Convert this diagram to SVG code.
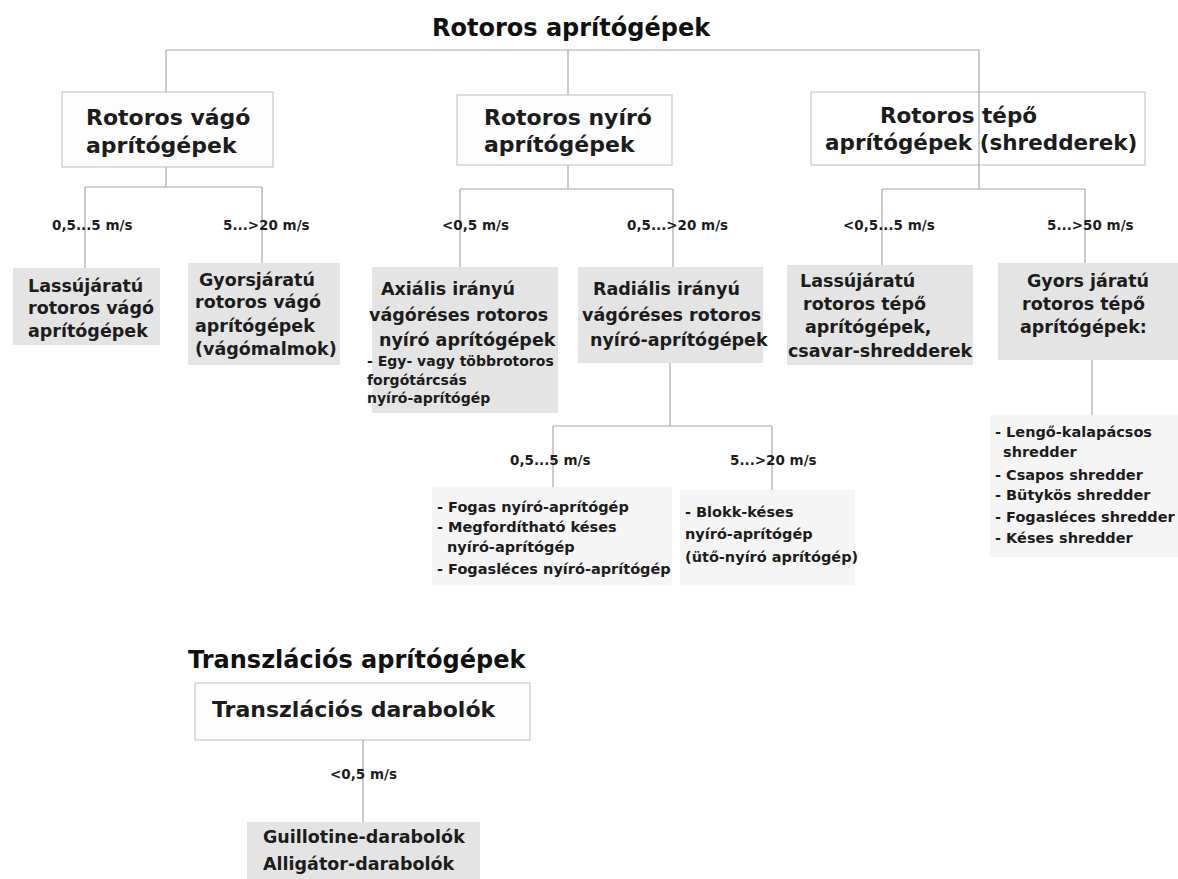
<svg xmlns="http://www.w3.org/2000/svg" width="1178" height="879" viewBox="0 0 1178 879">
<style>
text{font-family:"DejaVu Sans","Liberation Sans",sans-serif;font-weight:bold;fill:#1c1c1c}
.title{font-size:24px;fill:#111}
.h1{font-size:22px}
.g{font-size:17.5px}
.s{font-size:14.5px}
.sm{font-size:14px}
.lbl{font-size:13.5px}
.box1{fill:#fdfdfd;stroke:#c8c8c8;stroke-width:1.2}
.gray{fill:#e4e4e4}
.lite{fill:#f5f5f5}
.con line,.con path{stroke:#a8a8a8;stroke-width:1.2;fill:none}
</style>
<rect width="1178" height="879" fill="#ffffff"/>

<g id="node-root">
<text class="title" x="432" y="36">Rotoros aprítógépek</text>
</g>

<g id="node-vago">
<rect class="box1" x="62" y="92" width="211" height="75"/>
<text class="h1" x="86" y="125">Rotoros vágó</text>
<text class="h1" x="86" y="153">aprítógépek</text>
</g>

<g id="node-nyiro">
<rect class="box1" x="457" y="95" width="215" height="70"/>
<text class="h1" x="484" y="125">Rotoros nyíró</text>
<text class="h1" x="484" y="152">aprítógépek</text>
</g>

<g id="node-tepo">
<rect class="box1" x="811" y="92" width="334" height="73" style="fill:none"/>
<text class="h1" x="880" y="123" style="font-size:21.5px">Rotoros tépő</text>
<text class="h1" x="825" y="150" style="font-size:21.5px">aprítógépek (shredderek)</text>
</g>

<g id="node-lassu-vago">
<rect class="gray" x="13" y="268" width="147" height="77"/>
<text class="g" x="28" y="292">Lassújáratú</text>
<text class="g" x="28" y="314">rotoros vágó</text>
<text class="g" x="28" y="337">aprítógépek</text>
</g>

<g id="node-gyors-vago">
<rect class="gray" x="188" y="263" width="152" height="102"/>
<text class="g" x="199" y="286">Gyorsjáratú</text>
<text class="g" x="195" y="308">rotoros vágó</text>
<text class="g" x="195" y="332">aprítógépek</text>
<text class="g" x="195" y="355">(vágómalmok)</text>
</g>

<g id="node-axialis">
<rect class="gray" x="372" y="267" width="186" height="146"/>
<text class="g" x="381" y="295">Axiális irányú</text>
<text class="g" x="369" y="321">vágóréses rotoros</text>
<text class="g" x="379" y="346">nyíró aprítógépek</text>
<text class="sm" x="367" y="366">- Egy- vagy többrotoros</text>
<text class="sm" x="367" y="385">forgótárcsás</text>
<text class="sm" x="367" y="403">nyíró-aprítógép</text>
</g>

<g id="node-radialis">
<rect class="gray" x="578" y="267" width="185" height="96"/>
<text class="g" x="593" y="295">Radiális irányú</text>
<text class="g" x="582" y="321">vágóréses rotoros</text>
<text class="g" x="590" y="346">nyíró-aprítógépek</text>
</g>

<g id="node-lassu-tepo">
<rect class="gray" x="787" y="265" width="186" height="100"/>
<text class="g" x="800" y="287">Lassújáratú</text>
<text class="g" x="803" y="310">rotoros tépő</text>
<text class="g" x="805" y="333">aprítógépek,</text>
<text class="g" x="788" y="357">csavar-shredderek</text>
</g>

<g id="node-gyors-tepo">
<rect class="gray" x="998" y="263" width="180" height="97"/>
<text class="g" x="1027" y="287">Gyors járatú</text>
<text class="g" x="1022" y="310">rotoros tépő</text>
<text class="g" x="1020" y="333">aprítógépek:</text>
</g>

<g id="node-fogas">
<rect class="lite" x="432" y="487" width="240" height="98"/>
<text class="s" x="437" y="512">- Fogas nyíró-aprítógép</text>
<text class="s" x="437" y="532">- Megfordítható késes</text>
<text class="s" x="447" y="552">nyíró-aprítógép</text>
<text class="s" x="437" y="574">- Fogasléces nyíró-aprítógép</text>
</g>

<g id="node-blokk">
<rect class="lite" x="680" y="490" width="175" height="95"/>
<text class="s" x="685" y="517">- Blokk-késes</text>
<text class="s" x="685" y="539">nyíró-aprítógép</text>
<text class="s" x="685" y="562">(ütő-nyíró aprítógép)</text>
</g>

<g id="node-shredders">
<rect class="lite" x="990" y="415" width="188" height="142"/>
<text class="s" x="995" y="437">- Lengő-kalapácsos</text>
<text class="s" x="1003" y="457">shredder</text>
<text class="s" x="995" y="480">- Csapos shredder</text>
<text class="s" x="995" y="500">- Bütykös shredder</text>
<text class="s" x="995" y="522">- Fogasléces shredder</text>
<text class="s" x="995" y="543">- Késes shredder</text>
</g>

<g id="node-transz-root">
<text class="title" x="188" y="668">Transzlációs aprítógépek</text>
</g>

<g id="node-transz">
<rect class="box1" x="195" y="683" width="335" height="57"/>
<text class="h1" x="212" y="717">Transzlációs darabolók</text>
</g>

<g id="node-guillotine">
<rect class="gray" x="247" y="822" width="233" height="57"/>
<text class="g" x="263" y="843">Guillotine-darabolók</text>
<text class="g" x="263" y="870">Alligátor-darabolók</text>
</g>

<g id="connectors" class="con">
<path d="M166,50 H979"/>
<path d="M166,50 V92"/>
<path d="M568,50 V95"/>
<path d="M979,50 V189"/>
<path d="M166,167 V187 M85,187 H262 M85,187 V268 M262,187 V263"/>
<path d="M568,165 V189 M460,189 H673 M460,189 V267 M673,189 V267"/>
<path d="M882,189 H1085 M882,189 V265 M1085,189 V263"/>
<path d="M670,363 V426 M553,426 H772 M553,426 V487 M772,426 V490"/>
<path d="M1092,360 V415"/>
<path d="M363,740 V822"/>
</g>

<g id="labels">
<text class="lbl" x="52" y="230">0,5...5 m/s</text>
<text class="lbl" x="223" y="230">5...&gt;20 m/s</text>
<text class="lbl" x="442" y="230">&lt;0,5 m/s</text>
<text class="lbl" x="627" y="230">0,5...&gt;20 m/s</text>
<text class="lbl" x="843" y="230">&lt;0,5...5 m/s</text>
<text class="lbl" x="1047" y="230">5...&gt;50 m/s</text>
<text class="lbl" x="510" y="465">0,5...5 m/s</text>
<text class="lbl" x="730" y="465">5...&gt;20 m/s</text>
<text class="lbl" x="330" y="779">&lt;0,5 m/s</text>
</g>
</svg>
